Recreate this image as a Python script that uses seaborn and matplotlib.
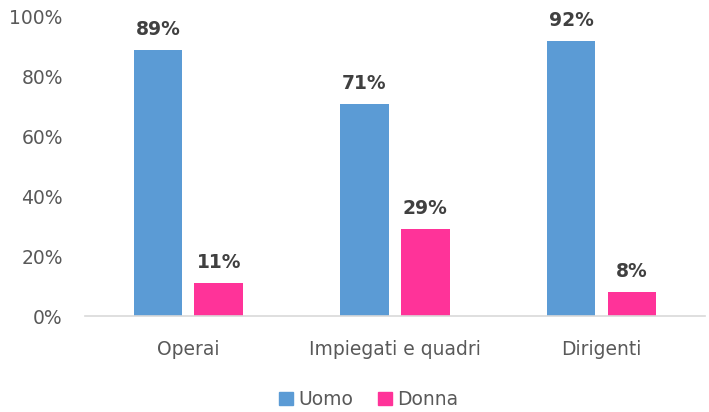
import pandas as pd
import seaborn as sns
import matplotlib.pyplot as plt
from matplotlib.ticker import PercentFormatter
from matplotlib.patches import Patch

categories = ['Operai', 'Impiegati e quadri', 'Dirigenti']
uomo = [0.89, 0.71, 0.92]
donna = [0.11, 0.29, 0.08]

df = pd.DataFrame({
    'Categoria': categories * 2,
    'Genere': ['Uomo'] * 3 + ['Donna'] * 3,
    'Valore': uomo + donna,
})

sns.set_style('white')
plt.rcParams['font.family'] = ['DejaVu Sans']

colors = {'Uomo': '#5B9BD5', 'Donna': '#FF3399'}

fig = plt.figure(figsize=(7.09, 4.12), dpi=100)
ax = fig.add_axes([0.12, 0.233, 0.874, 0.726])
sns.barplot(data=df, x='Categoria', y='Valore', hue='Genere', palette=colors,
            width=0.59, gap=0.2, saturation=1, linewidth=0, ax=ax, legend=False)

for cont in ax.containers:
    ax.bar_label(cont, labels=[f'{v * 100:.0f}%' for v in cont.datavalues],
                 padding=8, fontsize=13.5, fontweight='bold', color='#404040')

ax.set_ylim(0, 1)
ax.set_xlim(-0.5, 2.5)
ax.yaxis.set_major_formatter(PercentFormatter(1.0, decimals=0))
ax.set_yticks([0, 0.2, 0.4, 0.6, 0.8, 1.0])
ax.tick_params(axis='both', labelsize=13.5, colors='#595959', length=0)
ax.tick_params(axis='y', pad=16)
ax.tick_params(axis='x', pad=17)
ax.set_xlabel('')
ax.set_ylabel('')
for s in ['top', 'right', 'left']:
    ax.spines[s].set_visible(False)
ax.spines['bottom'].set_color('#D9D9D9')
ax.spines['bottom'].set_linewidth(1.2)

handles = [Patch(color=colors['Uomo'], label='Uomo'),
           Patch(color=colors['Donna'], label='Donna')]
fig.legend(handles=handles, loc='center', bbox_to_anchor=(0.52, 0.03), ncol=2,
           frameon=False, fontsize=13.5, labelcolor='#595959',
           handlelength=0.75, handleheight=0.75, handletextpad=0.3, columnspacing=1.3)

fig.savefig('out.png', dpi=100)
